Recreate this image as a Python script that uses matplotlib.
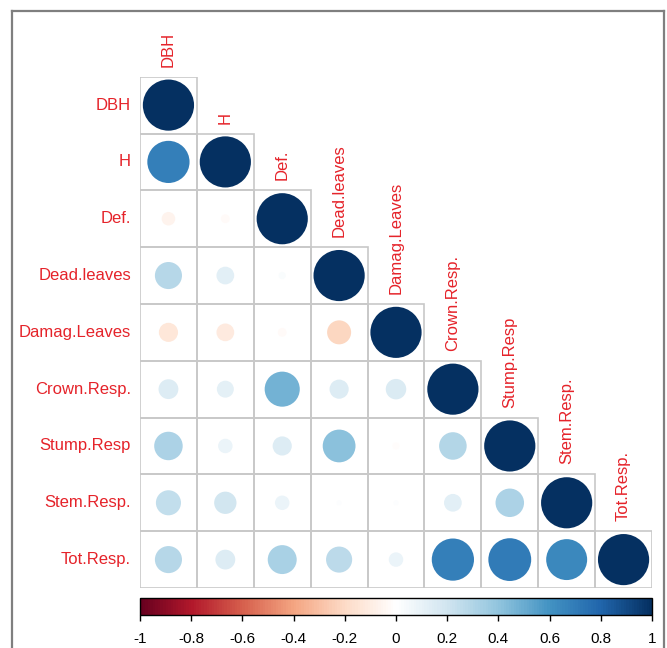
import matplotlib
matplotlib.use("Agg")
import matplotlib.pyplot as plt
import numpy as np
from matplotlib.colors import LinearSegmentedColormap, Normalize
from matplotlib.patches import Circle, Rectangle
from matplotlib.lines import Line2D
import matplotlib.cm as cm

plt.rcParams['font.family'] = ['Liberation Sans', 'DejaVu Sans']

# ---- data (lower triangle of correlation matrix) ----
labels = ["DBH", "H", "Def.", "Dead.leaves", "Damag.Leaves",
          "Crown.Resp.", "Stump.Resp", "Stem.Resp.", "Tot.Resp."]
row_DBH = [1.0]
row_H = [0.68, 1.0]
row_Def = [-0.07, -0.03, 1.0]
row_Dead = [0.28, 0.12, 0.02, 1.0]
row_Damag = [-0.14, -0.12, -0.03, -0.22, 1.0]
row_Crown = [0.15, 0.11, 0.47, 0.14, 0.16, 1.0]
row_Stump = [0.31, 0.08, 0.14, 0.41, -0.02, 0.29, 1.0]
row_Stem = [0.24, 0.19, 0.08, 0.01, 0.01, 0.12, 0.31, 1.0]
row_Tot = [0.28, 0.15, 0.32, 0.26, 0.08, 0.68, 0.70, 0.64, 1.0]
rows = [row_DBH, row_H, row_Def, row_Dead, row_Damag,
        row_Crown, row_Stump, row_Stem, row_Tot]
cbar_ticks = [-1, -0.8, -0.6, -0.4, -0.2, 0, 0.2, 0.4, 0.6, 0.8, 1]
cbar_ticklabels = ["-1", "-0.8", "-0.6", "-0.4", "-0.2", "0",
                   "0.2", "0.4", "0.6", "0.8", "1"]

# corrplot RdBu palette
rdbu = ["#67001F", "#B2182B", "#D6604D", "#F4A582", "#FDDBC7", "#FFFFFF",
        "#D1E5F0", "#92C5DE", "#4393C3", "#2166AC", "#053061"]
cmap = LinearSegmentedColormap.from_list("corrRdBu", rdbu, N=200)
norm = Normalize(-1, 1)

W, H = 667, 648
fig = plt.figure(figsize=(W / 100, H / 100), dpi=100)

# outer frame (left, top, right)
fc = "#7f7f7f"
fig.add_artist(Line2D([12 / W, 12 / W], [0, 1 - 11 / H], transform=fig.transFigure,
                      color=fc, lw=1.6))
fig.add_artist(Line2D([12 / W, 664 / W], [1 - 11 / H, 1 - 11 / H], transform=fig.transFigure,
                      color=fc, lw=1.6))
fig.add_artist(Line2D([664 / W, 664 / W], [0, 1 - 11 / H], transform=fig.transFigure,
                      color=fc, lw=1.6))

# main matrix axes
gx0, gx1, gy0, gy1 = 140, 652, 76.7, 588
ax = fig.add_axes([gx0 / W, 1 - gy1 / H, (gx1 - gx0) / W, (gy1 - gy0) / H])
n = len(labels)
ax.set_xlim(-0.5, n - 0.5)
ax.set_ylim(n - 0.5, -0.5)
ax.axis("off")

for i, row in enumerate(rows):
    for j, v in enumerate(row):
        ax.add_patch(Rectangle((j - 0.5, i - 0.5), 1, 1, facecolor="none",
                               edgecolor="#c8c8c8", lw=1.2, zorder=1))
        r = 0.45 * np.sqrt(abs(v))
        ax.add_patch(Circle((j, i), r, facecolor=cmap(norm(v)),
                            edgecolor="none", zorder=2))

red = "#e5232a"
for i, lab in enumerate(labels):
    ax.annotate(lab, xy=(-0.5, i), xytext=(-9, 0), textcoords="offset pixels",
                ha="right", va="center", color=red, fontsize=12,
                annotation_clip=False)
    ax.annotate(lab, xy=(i, i - 0.5), xytext=(0, 10), textcoords="offset pixels",
                ha="center", va="bottom", rotation=90, color=red, fontsize=12,
                annotation_clip=False)

# colorbar
cx0, cx1, cy0, cy1 = 140, 652, 598, 615
cax = fig.add_axes([cx0 / W, 1 - cy1 / H, (cx1 - cx0) / W, (cy1 - cy0) / H])
sm = cm.ScalarMappable(norm=norm, cmap=cmap)
cb = fig.colorbar(sm, cax=cax, orientation="horizontal")
cb.set_ticks(cbar_ticks)
cb.set_ticklabels(cbar_ticklabels)
cb.outline.set_edgecolor("black")
cb.outline.set_linewidth(1.0)
cax.tick_params(axis="x", direction="out", length=4, width=1, labelsize=11,
                pad=8, colors="black")

fig.savefig("out.png", dpi=100, facecolor="white")
